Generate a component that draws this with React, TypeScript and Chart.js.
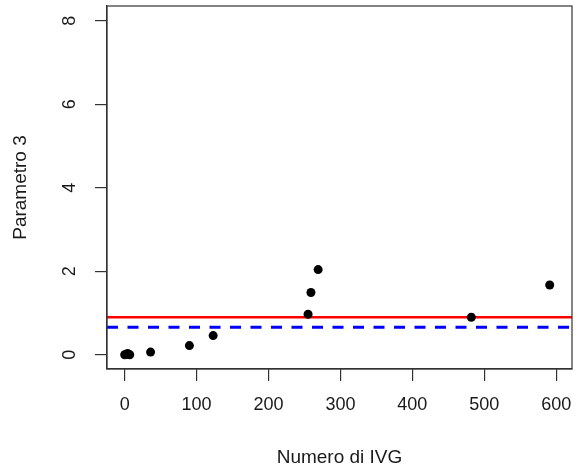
import React, { useEffect, useRef } from "react";
import { Chart, registerables } from "chart.js";

Chart.register(...registerables);

// Data
const ivgCount: number[] = [0, 2, 4, 7, 36, 90, 123, 255, 259, 269, 482, 591];
const param3: number[] = [0.0, 0.01, 0.03, 0.0, 0.065, 0.22, 0.46, 0.97, 1.49, 2.04, 0.9, 1.67];
const redLevel = 0.9;
const blueLevel = 0.66;
const xTicks: number[] = [0, 100, 200, 300, 400, 500, 600];
const yTicks: number[] = [0, 2, 4, 6, 8];
const xTitle = "Numero di IVG";
const yTitle = "Parametro 3";

const X_MIN = -24.6;
const X_MAX = 622;
const Y_MIN = -0.34;
const Y_MAX = 8.35;

const FONT = "'Liberation Sans', Arial, sans-serif";
const INK = "#1a1a1a";
const AXIS = "#333333";

const framePlugin = {
  id: "frame",
  afterDraw(chart: any) {
    const { ctx, chartArea } = chart;
    ctx.save();
    ctx.strokeStyle = AXIS;
    ctx.lineWidth = 1.2;
    ctx.strokeRect(chartArea.left, chartArea.top, chartArea.right - chartArea.left, chartArea.bottom - chartArea.top);
    ctx.restore();
  },
};

export default function App() {
  const ref = useRef<HTMLCanvasElement | null>(null);

  useEffect(() => {
    if (!ref.current) return;
    const points = ivgCount.map((x, i) => ({ x, y: param3[i] }));
    const chart = new Chart(ref.current, {
      type: "scatter",
      data: {
        datasets: [
          {
            label: "points",
            data: points,
            backgroundColor: "#000000",
            borderColor: "#000000",
            pointRadius: 4.5,
            pointHoverRadius: 4.5,
            borderWidth: 0,
            showLine: false,
            order: 0,
          },
          {
            label: "red",
            type: "line",
            data: [
              { x: X_MIN, y: redLevel },
              { x: X_MAX, y: redLevel },
            ],
            borderColor: "#ff0000",
            borderWidth: 2.5,
            pointRadius: 0,
            fill: false,
            order: 1,
          },
          {
            label: "blue",
            type: "line",
            data: [
              { x: X_MIN, y: blueLevel },
              { x: X_MAX, y: blueLevel },
            ],
            borderColor: "#0000ff",
            borderWidth: 2.8,
            borderDash: [11, 9.5],
            pointRadius: 0,
            fill: false,
            order: 2,
          },
        ],
      },
      options: {
        responsive: false,
        animation: false,
        events: [],
        layout: { padding: { top: 6, right: 7, left: 0, bottom: 0 } },
        plugins: {
          legend: { display: false },
          tooltip: { enabled: false },
        },
        scales: {
          x: {
            type: "linear",
            min: X_MIN,
            max: X_MAX,
            afterFit: (s: any) => {
              s.height = 104;
              s.paddingLeft = 0;
              s.paddingRight = 0;
              s.paddingTop = 0;
              s.paddingBottom = 0;
            },
            afterBuildTicks: (s: any) => {
              s.ticks = xTicks.map((v) => ({ value: v }));
            },
            ticks: {
              font: { family: FONT, size: 18 },
              color: INK,
              padding: 13,
              maxRotation: 0,
              minRotation: 0,
              includeBounds: false,
              autoSkip: false,
            },
            grid: {
              display: true,
              drawOnChartArea: false,
              drawTicks: true,
              tickLength: 12,
              color: AXIS,
              lineWidth: 1.2,
            },
            border: { display: true, color: AXIS, width: 1.2 },
            title: {
              display: true,
              text: xTitle,
              font: { family: FONT, size: 19 },
              color: INK,
              padding: { top: 0, bottom: 3.6 },
            },
          },
          y: {
            type: "linear",
            min: Y_MIN,
            max: Y_MAX,
            afterFit: (s: any) => {
              s.width = 107;
              s.paddingLeft = 0;
              s.paddingRight = 0;
              s.paddingTop = 0;
              s.paddingBottom = 0;
            },
            afterBuildTicks: (s: any) => {
              s.ticks = yTicks.map((v) => ({ value: v }));
            },
            ticks: {
              font: { family: FONT, size: 18 },
              color: INK,
              padding: 20,
              minRotation: 90,
              maxRotation: 90,
              crossAlign: "center",
              includeBounds: false,
              autoSkip: false,
            },
            grid: {
              display: true,
              drawOnChartArea: false,
              drawTicks: true,
              tickLength: 12,
              color: AXIS,
              lineWidth: 1.2,
            },
            border: { display: true, color: AXIS, width: 1.2 },
            title: {
              display: true,
              text: yTitle,
              font: { family: FONT, size: 19 },
              color: INK,
              padding: { top: 9.6, bottom: 0 },
            },
          },
        },
      },
      plugins: [framePlugin],
    });
    return () => chart.destroy();
  }, []);

  return (
    <div style={{ position: "fixed", left: 0, top: 0, width: 579, height: 473, background: "#ffffff" }}>
      <canvas ref={ref} width={579} height={473} style={{ display: "block", width: 579, height: 473 }} />
    </div>
  );
}
